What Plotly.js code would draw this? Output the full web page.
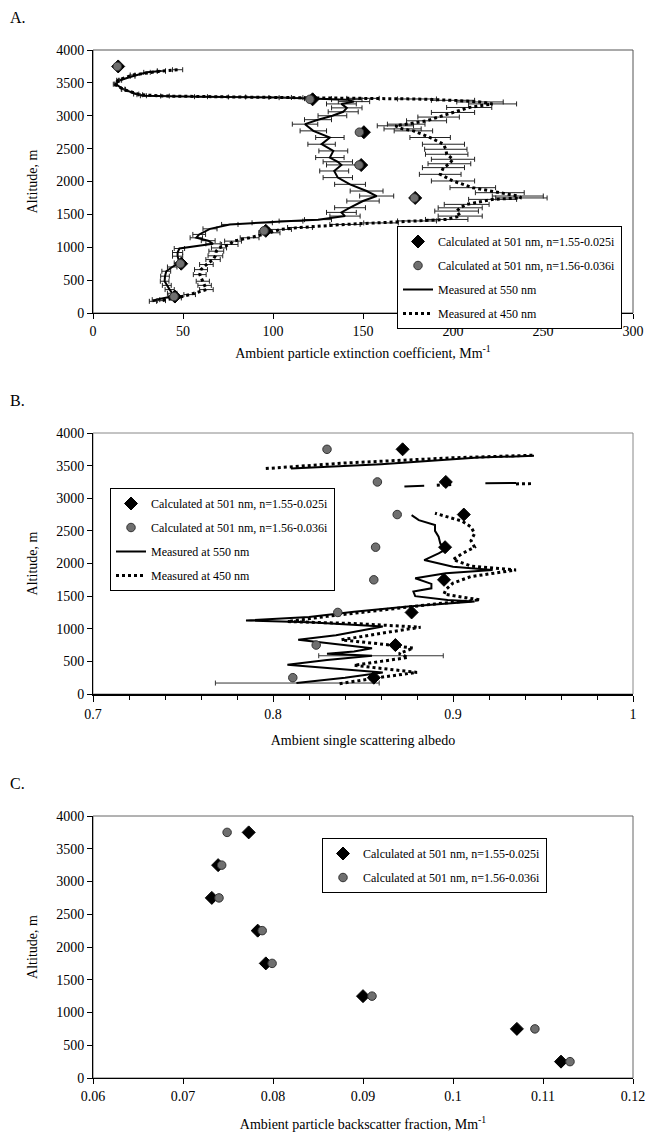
<!DOCTYPE html>
<html>
<head>
<meta charset="utf-8">
<script src="https://cdn.plot.ly/plotly-3.0.1.min.js"></script>
<style>html,body{margin:0;padding:0;background:#fff;}#chart{width:648px;height:1140px;}</style>
</head>
<body>
<div id="chart"></div>
<script>
// ---------- Panel A: extinction profiles ----------
const altA550 = [3680,3660,3600,3540,3482,3405,3330,3304,3290,3278,3260,3245,3215,3180,3120,3060,3000,2940,2872,2770,2669,2567,2465,2364,2300,2252,2160,2059,1957,1855,1779,1703,1601,1530,1474,1420,1398,1372,1347,1280,1195,1144,1100,1052,981,920,864,762,700,635,560,483,420,356,300,254,203,178];
const extA550 = [38,30,22,15,12.6,16.7,24,28,60,104,125,141,145,138,141,139,133,125,117.8,122.4,131.6,127,133.5,131.6,136,138,134,136,142.8,152,157.6,150,142.8,138,140,125,110,94,76,65,59,57.4,64,66.7,48,47,47,48,44,40.7,40,39.8,41,42.6,44,44.4,35,33.3];
const altA450 = [3700,3680,3620,3540,3480,3400,3320,3300,3285,3275,3265,3255,3235,3210,3180,3126,3050,2980,2923,2872,2847,2800,2770,2669,2567,2490,2414,2338,2270,2211,2109,2008,1906,1830,1779,1750,1728,1652,1600,1550,1474,1423,1400,1370,1347,1300,1271,1220,1144,1093,1042,990,940,870,813,737,660,584,483,420,356,280,229,188];
const extA450 = [47,38,22,14,12,17,26,40,80,110,150,180,200,215,222,209,200,192,185.3,174,168,172,178,187.3,194.7,196,196.5,200,198,194.7,192.9,200,211,226,236,238,222,207.6,204,202,204,196.5,180,160,140,115,104,98,87,77.8,76,70,68.5,68,66.7,63,60,59.3,61,62,63,53.7,46.3,38];
const calcAlt = [250,750,1250,1750,2250,2750,3250,3750];
const extCalc155 = [45.5,49,96,179,149,150.5,122,14];
const extCalc156 = [45,48.5,95,178.5,147.8,148,120.5,13.5];

// ---------- Panel B: single scattering albedo ----------
const altB550 = [168,250,331,400,448,520,586,615,650,700,760,830,900,1034,1100,1126,1180,1260,1340,1416,1442,1500,1569,1620,1687,1773,1850,1900,1950,2053,2155,2232,2300,2410,2500,2589,2665,2741,null,3180,3190,null,3230,3235,null,3455,3520,3623,3650];
const ssaB550 = [0.813,0.84,0.861,0.83,0.808,0.83,0.855,0.83,0.845,0.855,0.835,0.814,0.835,0.861,0.82,0.785,0.82,0.845,0.875,0.912,0.897,0.879,0.878,0.888,0.888,0.879,0.896,0.922,0.9,0.884,0.892,0.897,0.893,0.892,0.89,0.89,0.881,0.877,null,0.873,0.884,null,0.918,0.935,null,0.81,0.86,0.914,0.945];
const altB450 = [158,245,331,390,440,500,560,620,703,760,830,930,1024,1080,1110,1190,1290,1380,1442,1530,1600,1700,1800,1900,1960,2060,2150,2250,2350,2460,2560,2650,2730,2770,null,3200,3210,null,3220,3225,null,3455,3540,3620,3660];
const ssaB450 = [0.837,0.857,0.88,0.86,0.845,0.86,0.875,0.87,0.878,0.862,0.838,0.86,0.882,0.845,0.808,0.83,0.86,0.89,0.915,0.895,0.896,0.9,0.91,0.935,0.91,0.9,0.905,0.912,0.91,0.912,0.91,0.905,0.895,0.89,null,0.891,0.899,null,0.935,0.945,null,0.796,0.84,0.9,0.945];
const errAltB = [168,586];
const errSsaB = [0.8135,0.860];
const errSsaHalfB = [0.0455,0.0346];
const ssaCalc155 = [0.856,0.868,0.877,0.895,0.8956,0.906,0.896,0.872];
const ssaCalc156 = [0.811,0.824,0.836,0.856,0.857,0.869,0.858,0.830];

// ---------- Panel C: backscatter fraction ----------
const bsfCalc155 = [0.112,0.1071,0.0900,0.0792,0.0783,0.0732,0.0739,0.0773];
const bsfCalc156 = [0.113,0.1091,0.0910,0.0799,0.0788,0.0740,0.0743,0.0749];

// ---------- Labels ----------
const nameCalc155 = 'Calculated at 501 nm, n=1.55-0.025i';
const nameCalc156 = 'Calculated at 501 nm, n=1.56-0.036i';
const name550 = 'Measured at 550 nm';
const name450 = 'Measured at 450 nm';
const yTicks = [0,500,1000,1500,2000,2500,3000,3500,4000];

const FONT = 'Liberation Serif, Times New Roman, serif';
const W = 648, H = 1140;
const px = v => v / W;
const py = v => 1 - v / H;
const xDom = [px(93), px(633)];

const diamond = {symbol:'diamond', size:10, color:'#000', line:{color:'#000', width:1}};
const circle = {symbol:'circle', size:8.5, color:'#6f6f6f', line:{color:'#333', width:1}};
const errA = {type:'percent', value:6, color:'#222', thickness:1, width:2.5};

const traces = [
  // Panel A
  {x:extA550, y:altA550, xaxis:'x', yaxis:'y', mode:'lines', name:name550, legend:'legend', legendgroup:'a3', legendrank:3,
   line:{color:'#000', width:2}, error_x:errA},
  {x:extA450, y:altA450, xaxis:'x', yaxis:'y', mode:'lines', name:name450, legend:'legend', legendgroup:'a4', legendrank:4,
   line:{color:'#000', width:3, dash:'dot'}, error_x:errA},
  {x:extCalc155, y:calcAlt, xaxis:'x', yaxis:'y', mode:'markers', name:nameCalc155, legend:'legend', legendgroup:'a1', legendrank:1, marker:diamond},
  {x:extCalc156, y:calcAlt, xaxis:'x', yaxis:'y', mode:'markers', name:nameCalc156, legend:'legend', legendgroup:'a2', legendrank:2, marker:circle},
  // Panel B
  {x:errSsaB, y:errAltB, xaxis:'x2', yaxis:'y2', mode:'markers', showlegend:false, marker:{opacity:0},
   error_x:{type:'data', array:errSsaHalfB, color:'#333', thickness:1, width:2.5}},
  {x:ssaB550, y:altB550, xaxis:'x2', yaxis:'y2', mode:'lines', name:name550, legend:'legend2', legendgroup:'b3', legendrank:3,
   line:{color:'#000', width:2}, connectgaps:false},
  {x:ssaB450, y:altB450, xaxis:'x2', yaxis:'y2', mode:'lines', name:name450, legend:'legend2', legendgroup:'b4', legendrank:4,
   line:{color:'#000', width:3, dash:'dot'}, connectgaps:false},
  {x:ssaCalc155, y:calcAlt, xaxis:'x2', yaxis:'y2', mode:'markers', name:nameCalc155, legend:'legend2', legendgroup:'b1', legendrank:1, marker:diamond},
  {x:ssaCalc156, y:calcAlt, xaxis:'x2', yaxis:'y2', mode:'markers', name:nameCalc156, legend:'legend2', legendgroup:'b2', legendrank:2, marker:circle},
  // Panel C
  {x:bsfCalc155, y:calcAlt, xaxis:'x3', yaxis:'y3', mode:'markers', name:nameCalc155, legend:'legend3', legendgroup:'c1', legendrank:1, marker:diamond},
  {x:bsfCalc156, y:calcAlt, xaxis:'x3', yaxis:'y3', mode:'markers', name:nameCalc156, legend:'legend3', legendgroup:'c2', legendrank:2, marker:circle}
];

function xAxis(dom, range, dtick, title, anchor, standoff, extra) {
  return Object.assign({
    domain: dom, range: range, dtick: dtick, tick0: range[0], anchor: anchor,
    showgrid:false, zeroline:false, showline:true, linecolor:'#000', linewidth:1,
    ticks:'outside', ticklen:5, tickcolor:'#000',
    tickfont:{family:FONT, size:14, color:'#000'},
    title:{text:title, font:{family:FONT, size:14, color:'#000'}, standoff:standoff}
  }, extra || {});
}
function yAxis(dom, anchor) {
  return {
    domain: dom, range:[0,4000], tickvals:yTicks, anchor: anchor,
    showgrid:false, zeroline:false, showline:true, linecolor:'#000', linewidth:1,
    ticks:'outside', ticklen:5, tickcolor:'#000',
    tickfont:{family:FONT, size:14, color:'#000'},
    title:{text:'Altitude, m', font:{family:FONT, size:14, color:'#000'}, standoff:15}
  };
}

const legendBase = {
  xanchor:'left', yanchor:'top', bgcolor:'#fff', bordercolor:'#000', borderwidth:1,
  font:{family:FONT, size:12, color:'#000'}, traceorder:'grouped', tracegroupgap:5
};

const layout = {
  width:W, height:H, autosize:false,
  margin:{l:0, r:0, t:0, b:0},
  paper_bgcolor:'#fff', plot_bgcolor:'#fff',
  font:{family:FONT, color:'#000'},
  xaxis: xAxis(xDom, [0,300], 50, 'Ambient particle extinction coefficient, Mm<sup>-1</sup>', 'y', 10),
  yaxis: yAxis([py(313), py(50)], 'x'),
  xaxis2: xAxis(xDom, [0.7,1], 0.1, 'Ambient single scattering albedo', 'y2', 14,
    {linewidth:2, ticklen:6, minor:{dtick:0.02, tick0:0.7, ticks:'outside', ticklen:4, tickcolor:'#000', showgrid:false}}),
  yaxis2: yAxis([py(694), py(433)], 'x2'),
  xaxis3: xAxis(xDom, [0.06,0.12], 0.01, 'Ambient particle backscatter fraction, Mm<sup>-1</sup>', 'y3', 16),
  yaxis3: yAxis([py(1078), py(816)], 'x3'),
  legend: Object.assign({}, legendBase, {x:px(397), y:py(226)}),
  legend2: Object.assign({}, legendBase, {x:px(110), y:py(488)}),
  legend3: Object.assign({}, legendBase, {x:px(322), y:py(838)}),
  shapes: [
    {type:'rect', xref:'x domain', yref:'y domain', x0:0, x1:1, y0:0, y1:1, line:{color:'#555', width:1}, layer:'below'},
    {type:'rect', xref:'x2 domain', yref:'y2 domain', x0:0, x1:1, y0:0, y1:1, line:{color:'#888', width:1}, layer:'below'},
    {type:'rect', xref:'x3 domain', yref:'y3 domain', x0:0, x1:1, y0:0, y1:1, line:{color:'#666', width:1}, layer:'below'}
  ],
  annotations: [
    {text:'A.', xref:'paper', yref:'paper', x:px(8), y:py(17), xanchor:'left', yanchor:'middle', showarrow:false, font:{family:FONT, size:16, color:'#000'}},
    {text:'B.', xref:'paper', yref:'paper', x:px(8), y:py(400), xanchor:'left', yanchor:'middle', showarrow:false, font:{family:FONT, size:16, color:'#000'}},
    {text:'C.', xref:'paper', yref:'paper', x:px(8), y:py(783), xanchor:'left', yanchor:'middle', showarrow:false, font:{family:FONT, size:16, color:'#000'}}
  ]
};

Plotly.newPlot('chart', traces, layout, {displayModeBar:false, staticPlot:true});
</script>
</body>
</html>
